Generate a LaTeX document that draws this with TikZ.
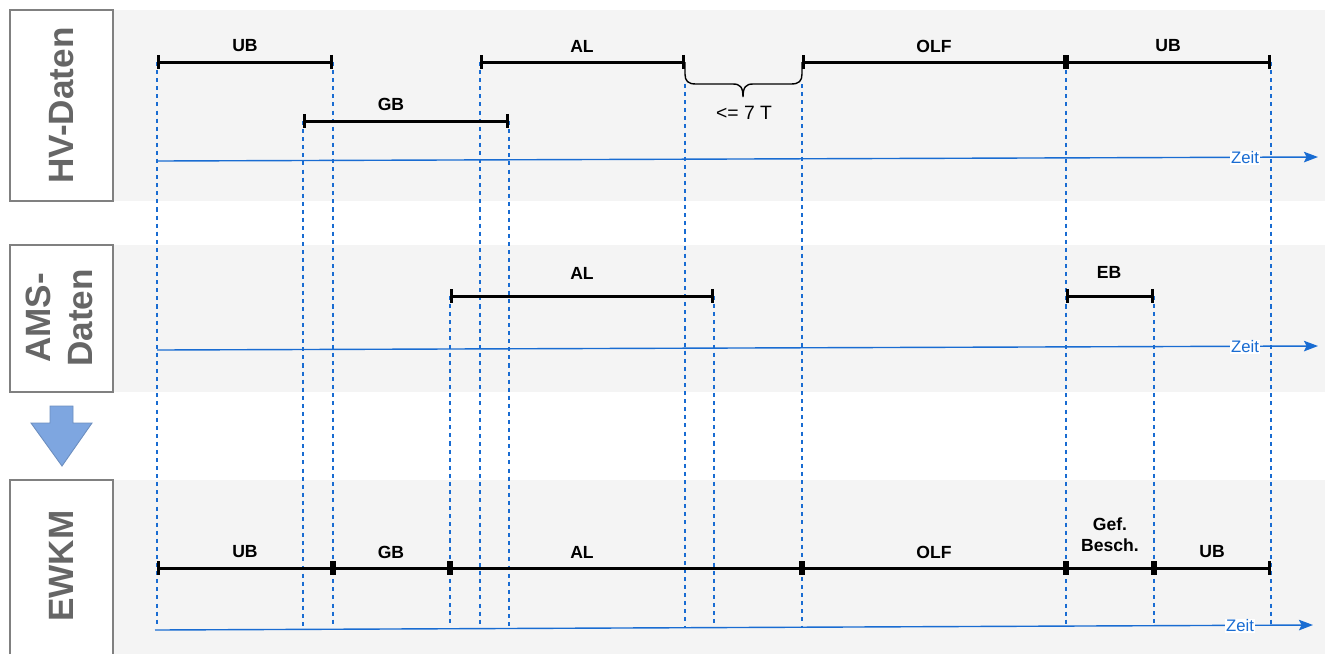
\documentclass[tikz,border=0pt]{standalone}
\usepackage{fontspec}
\setmainfont{Liberation Sans}
\usetikzlibrary{arrows.meta}

\definecolor{zeitblau}{RGB}{25,108,210}
\definecolor{panelgrau}{RGB}{244,244,244}
\definecolor{rahmengrau}{RGB}{128,128,128}
\definecolor{textgrau}{RGB}{102,102,102}
\definecolor{pfeilblau}{RGB}{126,166,224}
\definecolor{pfeilrand}{RGB}{108,142,191}

\tikzset{
  panel/.style={fill=panelgrau,draw=none},
  kasten/.style={draw=rahmengrau,line width=0.8pt,fill=white},
  kastentext/.style={rotate=90,text=textgrau,align=center,
    font=\fontsize{20}{24}\selectfont\bfseries},
  zeitraum/.style={line width=1.7pt,{Bar[width=8pt]}-{Bar[width=8pt]}},
  marke/.style={font=\fontsize{10}{12}\selectfont\bfseries,align=center},
  grenze/.style={zeitblau,line width=0.8pt,dash pattern=on 2.3pt off 2.3pt},
  zeitachse/.style={zeitblau,line width=0.8pt,-{Stealth[length=8pt,width=6pt,inset=1.5pt]}},
  zeit/.style={text=zeitblau,fill=white,inner sep=0.6pt,font=\fontsize{9.5}{11}\selectfont},
}

\begin{document}
\begin{tikzpicture}[x=0.02cm,y=-0.02cm]
    \useasboundingbox (0,0) rectangle (1325,654);

    % Hintergrund der drei Zeilen
    \fill[panel] (113,10) rectangle (1325,201);
    \fill[panel] (113,245) rectangle (1325,392);
    \fill[panel] (113,480) rectangle (1325,654);

    % Beschriftungskaesten links
    \draw[kasten] (10,10) rectangle (113,201);
    \node[kastentext] (hv) at (61.5,105.5) {HV-Daten};
    \draw[kasten] (10,245) rectangle (113,392);
    \node[kastentext] (ams) at (59,318) {AMS-\\Daten};
    \draw[kasten] (10,654) -- (10,480) -- (113,480) -- (113,654);
    \node[kastentext] (ewkm) at (61.5,566) {EWKM};

    % Pfeil nach unten
    \draw[fill=pfeilblau,draw=pfeilrand,line width=0.5pt]
        (50,406) -- (73,406) -- (73,423) -- (92,423) -- (62,466)
        -- (31,423) -- (50,423) -- cycle;

    % Gestrichelte Grenzen
    \foreach \x/\y in {157/62,303/121,333/62,450/296,480/62,509/121,
                       685/84,714/296,802/84,1066/62,1154/296,1271/62}
        \draw[grenze] (\x,\y) -- (\x,627);

    % HV-Daten
    \draw[zeitraum] (157,62) -- (333,62);
    \node[marke] (hub1) at (245,46) {UB};
    \draw[zeitraum] (480,62) -- (685,62);
    \node[marke] (hal) at (582,46) {AL};
    \draw[zeitraum] (802,62) -- (1066,62);
    \node[marke] (holf) at (934,46) {OLF};
    \draw[zeitraum] (1066,62) -- (1271,62);
    \node[marke] (hub2) at (1168,46) {UB};
    \draw[zeitraum] (303,121) -- (509,121);
    \node[marke] (hgb) at (391,104) {GB};

    % Klammer zwischen AL und OLF
    \draw[line width=0.8pt] (685,62) -- (685,74)
        .. controls (685,81) and (688,84) .. (696,84) -- (733,84)
        .. controls (740,84) and (743,87) .. (743,97)
        .. controls (743,87) and (746,84) .. (753,84) -- (791,84)
        .. controls (799,84) and (802,81) .. (802,74) -- (802,62);
    \node[font=\fontsize{11}{13}\selectfont] (frist) at (744,113) {<= 7 T};

    \coordinate (ha) at (157,161);
    \coordinate (he) at (1318,157);
    \draw[zeitachse] (ha) -- (he);
    \node[zeit] (hzeit) at (1245,158) {Zeit};

    % AMS-Daten
    \draw[zeitraum] (450,296) -- (714,296);
    \node[marke] (aal) at (582,273) {AL};
    \draw[zeitraum] (1066,296) -- (1154,296);
    \node[marke] (aeb) at (1109,272) {EB};

    \coordinate (aa) at (157,350);
    \coordinate (ae) at (1318,346);
    \draw[zeitachse] (aa) -- (ae);
    \node[zeit] (azeit) at (1245,347) {Zeit};

    % EWKM
    \draw[zeitraum] (157,568) -- (333,568);
    \draw[zeitraum] (333,568) -- (450,568);
    \draw[zeitraum] (450,568) -- (802,568);
    \draw[zeitraum] (802,568) -- (1066,568);
    \draw[zeitraum] (1066,568) -- (1154,568);
    \draw[zeitraum] (1154,568) -- (1271,568);
    \node[marke] (eub1) at (245,552) {UB};
    \node[marke] (egb) at (391,552) {GB};
    \node[marke] (eal) at (582,552) {AL};
    \node[marke] (eolf) at (934,552) {OLF};
    \node[marke] (egef) at (1110,535) {Gef.\\Besch.};
    \node[marke] (eub2) at (1212,552) {UB};

    \coordinate (ea) at (155,630);
    \coordinate (ee) at (1313,625);
    \draw[zeitachse] (ea) -- (ee);
    \node[zeit] (ezeit) at (1240,626) {Zeit};
\end{tikzpicture}
\end{document}
